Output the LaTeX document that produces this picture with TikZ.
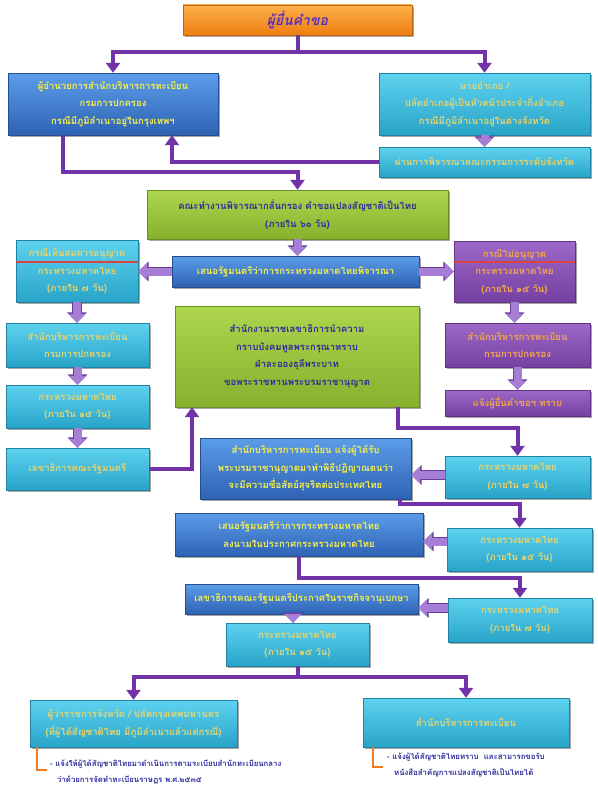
\documentclass[tikz,border=0pt]{standalone}
\usepackage{fontspec}
\newfontfamily\thai[Script=Thai]{Loma}
\usetikzlibrary{arrows.meta,shadows,calc}
\definecolor{connc}{HTML}{7232A8}
\definecolor{barfill}{HTML}{A67ED6}
\definecolor{barline}{HTML}{6A3D9A}
\definecolor{blueT}{HTML}{5C9DE8}
\definecolor{blueB}{HTML}{2E62B4}
\definecolor{cyanT}{HTML}{5ED2F0}
\definecolor{cyanB}{HTML}{28A4C8}
\definecolor{greenT}{HTML}{AED64E}
\definecolor{greenB}{HTML}{86B02E}
\definecolor{purpT}{HTML}{9E68C8}
\definecolor{purpB}{HTML}{7640A2}
\definecolor{orT}{HTML}{FDB04A}
\definecolor{orB}{HTML}{EF7E12}
\definecolor{yelT}{HTML}{F8F04A}
\definecolor{goldT}{HTML}{E8D46C}
\definecolor{navyT}{HTML}{2E2A9C}
\definecolor{orgT}{HTML}{F2A845}
\definecolor{titleT}{HTML}{5A2EBE}
\definecolor{sepred}{HTML}{D84444}
\definecolor{brk}{HTML}{F07A1E}
\newcommand\bxfont{\thai\bfseries\fontsize{9.5}{17.5}\selectfont}
\newcommand\smfont{\thai\bfseries\fontsize{7.8}{16}\selectfont}
\begin{document}
\begin{tikzpicture}[x=1pt,y=-1pt,
  box/.style={rectangle, inner sep=1pt, align=center, font=\bxfont,
    drop shadow={shadow xshift=2pt, shadow yshift=-2pt, opacity=0.35, fill=black}},
  bluebox/.style={box, top color=blueT, bottom color=blueB, draw=blueB!80!black, line width=0.4pt, text=yelT},
  cyanbox/.style={box, top color=cyanT, bottom color=cyanB, draw=cyanB!80!black, line width=0.4pt, text=goldT},
  greenbox/.style={box, top color=greenT, bottom color=greenB, draw=greenB!80!black, line width=0.4pt, text=navyT},
  purpbox/.style={box, top color=purpT, bottom color=purpB, draw=purpB!80!black, line width=0.4pt, text=orgT},
  orangebox/.style={box, top color=orT, bottom color=orB, draw=orB!80!black, line width=0.4pt, text=titleT},
  conn/.style={draw=connc, line width=4pt, -{Triangle[width=14pt,length=10pt]}},
  conn plain/.style={draw=connc, line width=4pt},
  barrow/.style={draw=barfill, line width=8pt, -{Triangle[width=17pt,length=9pt]},
    preaction={draw=barline, line width=9.6pt, -{Triangle[width=19.5pt,length=10.5pt]}}},
  sepline/.style={draw=sepred, line width=1.3pt},
  bracket/.style={draw=brk, line width=2pt},
  bullettext/.style={font=\smfont, text=navyT, align=left, inner sep=0pt}
]
\fill[white] (0,0) rectangle (597,800);
\useasboundingbox (0,0) rectangle (597,800);

% boxes
\node[orangebox, minimum width=229pt, minimum height=30pt] (title) at (297.5,20)
  {\thai\bfseries\itshape\fontsize{14}{16}\selectfont ผู้ยื่นคำขอ};
\node[bluebox, minimum width=210pt, minimum height=62pt] (b2) at (113,104)
  {ผู้อำนวยการสำนักบริหารการทะเบียน\\กรมการปกครอง\\กรณีมีภูมิลำเนาอยู่ในกรุงเทพฯ};
\node[cyanbox, minimum width=211pt, minimum height=62pt] (b3) at (484.5,104)
  {นายอำเภอ /\\ปลัดอำเภอผู้เป็นหัวหน้าประจำกิ่งอำเภอ\\กรณีมีภูมิลำเนาอยู่ในต่างจังหวัด};
\node[cyanbox, minimum width=211pt, minimum height=30pt] (b4) at (484.5,162)
  {ผ่านการพิจารณาคณะกรรมการระดับจังหวัด};
\node[greenbox, minimum width=301pt, minimum height=49pt] (b5) at (297.5,214.5)
  {คณะทำงานพิจารณากลั่นกรอง คำขอแปลงสัญชาติเป็นไทย\\(ภายใน ๖๐ วัน)};
\node[bluebox, minimum width=247pt, minimum height=31pt] (b6) at (295.5,271.5)
  {เสนอรัฐมนตรีว่าการกระทรวงมหาดไทยพิจารณา};
\node[cyanbox, minimum width=122pt, minimum height=62pt] (b7) at (77,271)
  {กรณีเห็นสมควรอนุญาต\\กระทรวงมหาดไทย\\(ภายใน ๗ วัน)};
\node[purpbox, minimum width=121pt, minimum height=61pt] (b8) at (514.5,271.5)
  {กรณีไม่อนุญาต\\กระทรวงมหาดไทย\\(ภายใน ๑๕ วัน)};
\node[cyanbox, minimum width=143pt, minimum height=44pt] (b9) at (77.5,345)
  {สำนักบริหารการทะเบียน\\กรมการปกครอง};
\node[cyanbox, minimum width=143pt, minimum height=43pt] (b10) at (77.5,406.5)
  {กระทรวงมหาดไทย\\(ภายใน ๑๕ วัน)};
\node[cyanbox, minimum width=143pt, minimum height=42pt] (b11) at (77.5,469)
  {เลขาธิการคณะรัฐมนตรี};
\node[greenbox, minimum width=244pt, minimum height=101pt] (b12) at (297,356.5)
  {สำนักงานราชเลขาธิการนำความ\\กราบบังคมทูลพระกรุณาทราบ\\ฝ่าละอองธุลีพระบาท\\ขอพระราชทานพระบรมราชานุญาต};
\node[purpbox, minimum width=145pt, minimum height=44pt] (b13) at (517.5,345)
  {สำนักบริหารการทะเบียน\\กรมการปกครอง};
\node[purpbox, minimum width=145pt, minimum height=26pt] (b14) at (517.5,403)
  {แจ้งผู้ยื่นคำขอฯ ทราบ};
\node[cyanbox, minimum width=145pt, minimum height=42pt] (b15) at (517.5,477)
  {กระทรวงมหาดไทย\\(ภายใน ๗ วัน)};
\node[bluebox, minimum width=211pt, minimum height=61pt] (b16) at (305.5,468.5)
  {สำนักบริหารการทะเบียน แจ้งผู้ได้รับ\\พระบรมราชานุญาตมาทำพิธีปฏิญาณตนว่า\\จะมีความซื่อสัตย์สุจริตต่อประเทศไทย};
\node[cyanbox, minimum width=145pt, minimum height=43pt] (b17) at (519.5,549.5)
  {กระทรวงมหาดไทย\\(ภายใน ๑๕ วัน)};
\node[bluebox, minimum width=248pt, minimum height=43pt] (b18) at (299,534.5)
  {เสนอรัฐมนตรีว่าการกระทรวงมหาดไทย\\ลงนามในประกาศกระทรวงมหาดไทย};
\node[cyanbox, minimum width=144pt, minimum height=44pt] (b19) at (520,620)
  {กระทรวงมหาดไทย\\(ภายใน ๗ วัน)};
\node[bluebox, minimum width=233pt, minimum height=30pt] (b20) at (301.5,599)
  {เลขาธิการคณะรัฐมนตรีประกาศในราชกิจจานุเบกษา};
\node[cyanbox, minimum width=143pt, minimum height=43pt] (b21) at (297.5,644.5)
  {กระทรวงมหาดไทย\\(ภายใน ๑๕ วัน)};
\node[cyanbox, minimum width=207pt, minimum height=47pt] (b22) at (133.5,723.5)
  {ผู้ว่าราชการจังหวัด / ปลัดกรุงเทพมหานคร\\(ที่ผู้ได้สัญชาติไทย มีภูมิลำเนาแล้วแต่กรณี)};
\node[cyanbox, minimum width=206pt, minimum height=49pt] (b23) at (466,722.5)
  {สำนักบริหารการทะเบียน};

% separator lines
\draw[sepline] ([yshift=9pt]b7.west) -- ([yshift=9pt]b7.east);
\draw[sepline] ([yshift=9.5pt]b8.west) -- ([yshift=9.5pt]b8.east);

% connectors
\draw[conn] (title.south) -- ++(0,17) -| (b2.north);
\draw[conn] (title.south) -- ++(0,17) -| (b3.north);
\draw[conn] (b4.west) -| ([xshift=59pt]b2.south);
\draw[conn] ([xshift=-50pt]b2.south) -- ++(0,37) -| (b5.north);
\draw[conn] (b11.east) -| ([xshift=-105pt]b12.south);
\draw[conn] ([xshift=101pt]b12.south) -- ++(0,21) -| (b15.north);
\draw[conn] ([xshift=94.5pt]b16.south) -- ++(0,4.5) -| (b17.north);
\draw[conn] (b18.south) -- ++(0,22) -| (b19.north);
\draw[conn] (b21.south) -- ++(0,10.5) -| (b22.north);
\draw[conn] (b21.south) -- ++(0,10.5) -| (b23.north);

% block arrows
\draw[barrow] (b3.south) -- (b4.north);
\draw[barrow] (b5.south) -- (b5.south |- b6.north);
\draw[barrow] (b6.west) -- (b6.west -| b7.east);
\draw[barrow] (b6.east) -- (b6.east -| b8.west);
\draw[barrow] (b7.south) -- (b7.south |- b9.north);
\draw[barrow] (b9.south) -- (b9.south |- b10.north);
\draw[barrow] (b10.south) -- (b10.south |- b11.north);
\draw[barrow] (b8.south) -- (b8.south |- b13.north);
\draw[barrow] (b13.south) -- (b14.north);
\draw[barrow] ([yshift=2pt]b15.west) -- ([yshift=2pt]b15.west -| b16.east);
\draw[barrow] ([yshift=8pt]b17.west) -- ([yshift=8pt]b17.west -| b18.east);
\draw[barrow] ([yshift=12pt]b19.west) -- ([yshift=12pt]b19.west -| b20.east);
\draw[barrow] ([xshift=-8.5pt]b20.south) -- ([xshift=-8.5pt]b20.south |- b21.north);

% bullet notes
\draw[bracket] ([xshift=7pt]b22.south west) -- ++(0,23) -- ++(10,0) coordinate (lbr);
\draw[bracket] ([xshift=10pt]b23.south west) -- ++(0,20) -- ++(10,0) coordinate (rbr);
\node[bullettext, anchor=west] (n1) at (50,772)
  {- แจ้งให้ผู้ได้สัญชาติไทยมาดำเนินการตามระเบียบสำนักทะเบียนกลาง\\\hspace*{7pt}ว่าด้วยการจัดทำทะเบียนราษฎร พ.ศ.๒๕๓๕};
\node[bullettext, anchor=west] (n2) at (387,765)
  {- แจ้งผู้ได้สัญชาติไทยทราบ\ \ และสามารถขอรับ\\\hspace*{7pt}หนังสือสำคัญการแปลงสัญชาติเป็นไทยได้};
\end{tikzpicture}
\end{document}
